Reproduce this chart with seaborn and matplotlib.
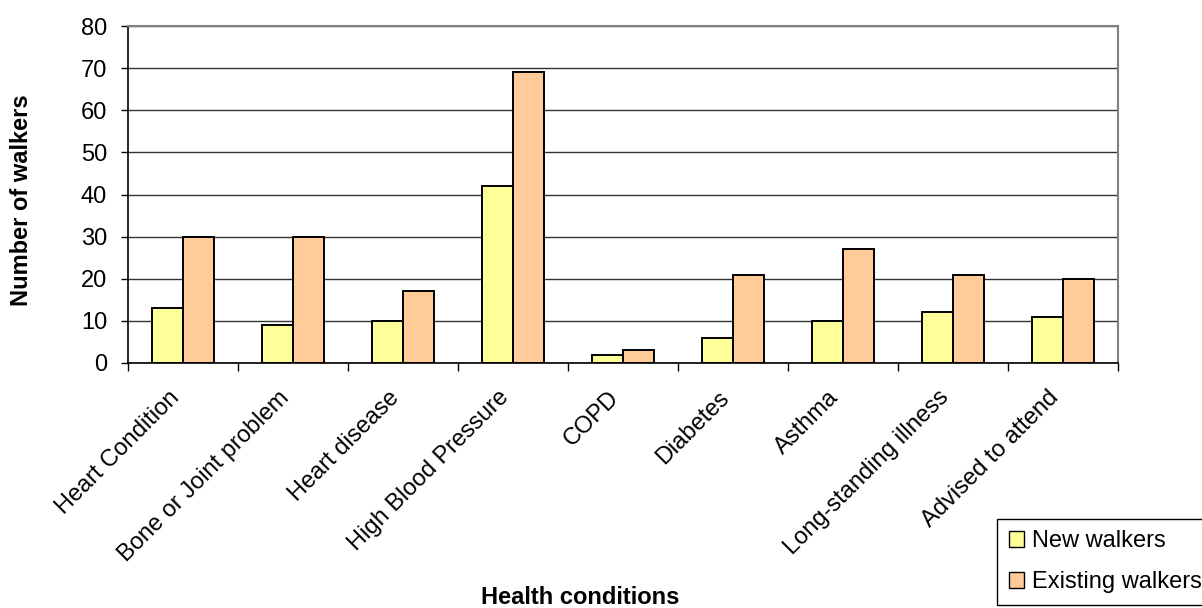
import numpy as np
import pandas as pd
import matplotlib
matplotlib.use("Agg")
import matplotlib.pyplot as plt
import matplotlib.transforms as mtransforms
import seaborn as sns

conditions = ["Heart Condition", "Bone or Joint problem", "Heart disease",
              "High Blood Pressure", "COPD", "Diabetes", "Asthma",
              "Long-standing illness", "Advised to attend"]
new_walkers = [13, 9, 10, 42, 2, 6, 10, 12, 11]
existing_walkers = [30, 30, 17, 69, 3, 21, 27, 21, 20]
series_names = ["New walkers", "Existing walkers"]
series_colors = ["#FFFF99", "#FFCC99"]
y_ticks = [0, 10, 20, 30, 40, 50, 60, 70, 80]

sns.set_theme(style="white")
plt.rcParams["font.family"] = ["Liberation Sans", "DejaVu Sans"]
plt.rcParams["text.color"] = "black"
plt.rcParams["axes.labelcolor"] = "black"
plt.rcParams["xtick.color"] = "black"
plt.rcParams["ytick.color"] = "black"

df = pd.DataFrame({
    "Condition": conditions * 2,
    "Walkers": new_walkers + existing_walkers,
    "Group": [series_names[0]] * len(conditions) + [series_names[1]] * len(conditions),
})

fig = plt.figure(figsize=(12.02, 6.08), dpi=100)
ax = fig.add_axes([0.1065, 0.403, 0.8235, 0.554])

sns.barplot(data=df, x="Condition", y="Walkers", hue="Group",
            palette=series_colors, saturation=1, width=0.57,
            edgecolor="black", linewidth=1.4, ax=ax, legend=True, zorder=3)

ax.set_ylim(0, 80)
ax.set_xlim(-0.5, len(conditions) - 0.5)
ax.set_yticks(y_ticks)
ax.tick_params(axis="y", labelsize=17, length=5, width=1, direction="out",
               left=True, pad=10)
ax.yaxis.grid(True, color="#333333", linewidth=1, zorder=0)
ax.set_axisbelow(True)

# category labels on the major ticks, tick marks on the boundaries between groups
ax.set_xticks(range(len(conditions)))
ax.set_xticklabels(conditions, rotation=45, ha="right", rotation_mode="anchor",
                   fontsize=17)
ax.tick_params(axis="x", which="major", length=0, pad=17)
shift = mtransforms.ScaledTranslation(-0.15, 0, fig.dpi_scale_trans)
for lbl in ax.get_xticklabels():
    lbl.set_transform(lbl.get_transform() + shift)
ax.set_xticks(np.arange(-0.5, len(conditions), 1), minor=True)
ax.tick_params(axis="x", which="minor", length=6, width=1, direction="out",
               bottom=True)

for side in ["left", "bottom"]:
    ax.spines[side].set_color("black")
    ax.spines[side].set_linewidth(1.2)
for side in ["top", "right"]:
    ax.spines[side].set_color("#808080")
    ax.spines[side].set_linewidth(1.5)

ax.set_xlabel("")
ax.set_ylabel("")
fig.text(22 / 1202, 1 - 200 / 608, "Number of walkers", fontsize=17,
         fontweight="bold", rotation=90, ha="center", va="center")
fig.text(580 / 1202, 1 - 597 / 608, "Health conditions", fontsize=17,
         fontweight="bold", ha="center", va="center")

leg = ax.legend(loc="lower left", bbox_to_anchor=(997 / 1202, 3 / 608),
                bbox_transform=fig.transFigure, fontsize=17, frameon=True,
                fancybox=False, edgecolor="black", framealpha=1,
                handlelength=0.65, handleheight=0.65, handletextpad=0.35,
                borderpad=0.5, labelspacing=0.8, borderaxespad=0)
leg.get_frame().set_linewidth(1)
for h in leg.legend_handles:
    h.set_edgecolor("black")
    h.set_linewidth(1)

fig.savefig("out.png", dpi=100)
